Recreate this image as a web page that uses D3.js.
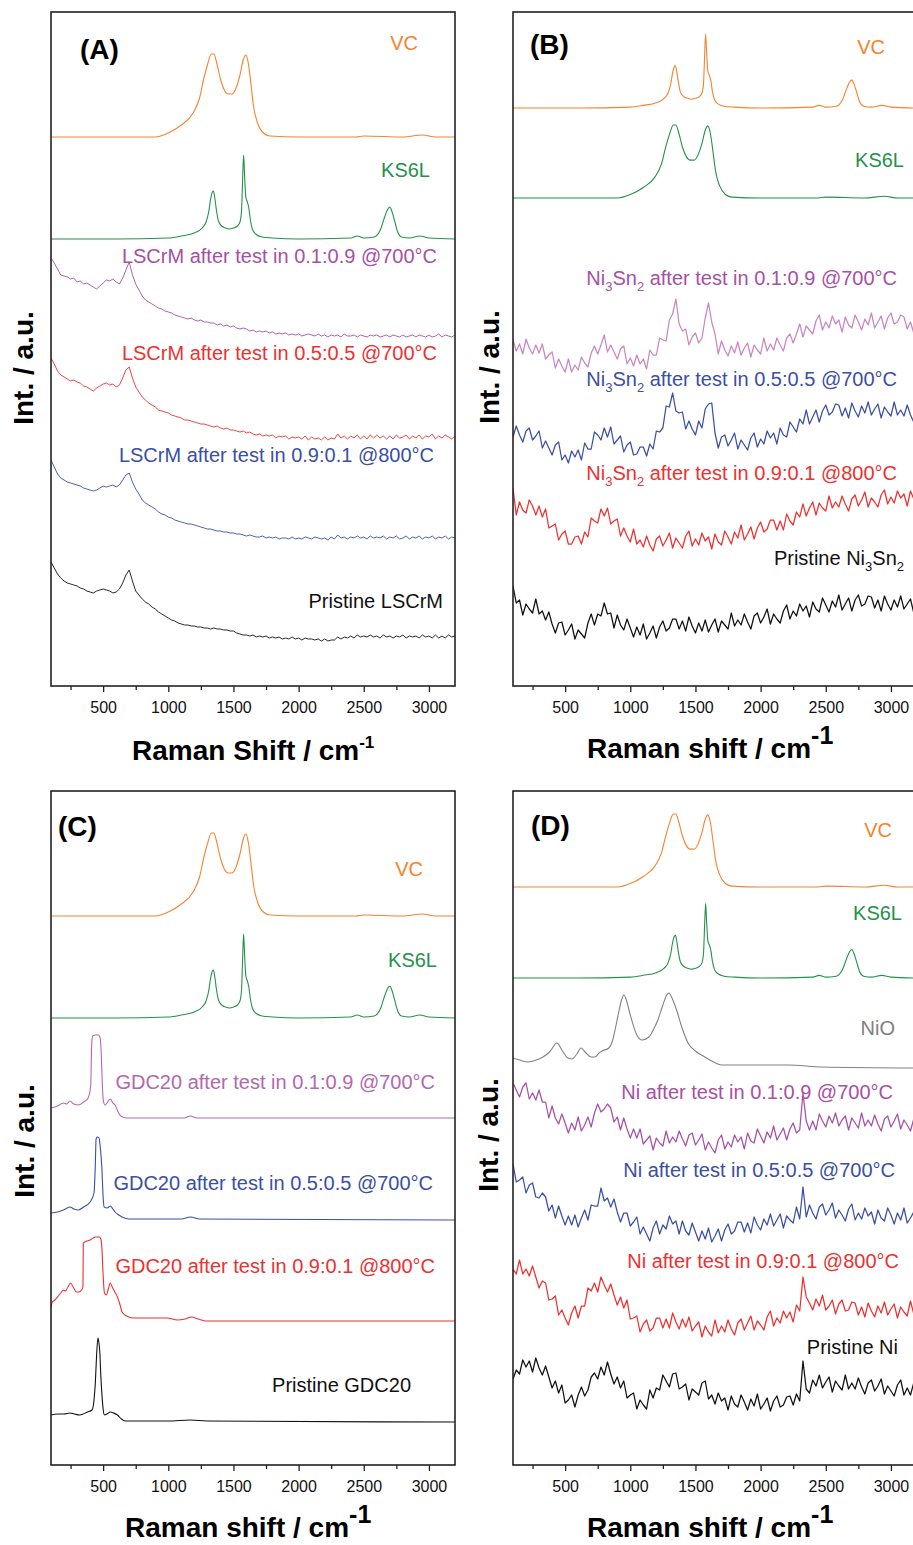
<!DOCTYPE html>
<html>
<head>
<meta charset="utf-8">
<script src="https://cdn.jsdelivr.net/npm/d3@7"></script>
<style>
  body { margin: 0; background: #fff; }
  svg { display: block; font-family: "Liberation Sans", Arial, sans-serif; }
</style>
</head>
<body>
<svg id="chart" width="913" height="1545"></svg>
<script>
// Raman shift axis (cm-1) and intensity range (a.u.)
var shiftDomain = [100, 3200];
var intensityDomain = [0, 674];
var majorTicks = [500, 1000, 1500, 2000, 2500, 3000];
var minorTicks = [250, 750, 1250, 1750, 2250, 2750];

// noisy spectra are read every 25 cm-1
var grid = d3.range(100, 3201, 25);

// carbon references, intensity above their own baseline
var broadCarbon = [[100,0],[400,0],[800,0],[900,0],[1000,4],[1100,12],[1190,24],[1240,39],[1270,57],[1300,72],
  [1330,83],[1350,83],[1370,75],[1400,58],[1430,47],[1460,43],[1490,43],[1520,49],[1550,62],[1575,77],
  [1595,82],[1615,73],[1635,52],[1655,30],[1685,14],[1730,4],[1780,1],[2000,0],[2440,0],[2500,1],
  [2800,0],[2950,2],[3050,0],[3200,0]];
var sharpCarbon = [[100,0],[600,0],[1000,1],[1100,3],[1200,6],[1260,11],[1290,17],[1310,27],[1325,40],[1338,47],
  [1346,48],[1356,42],[1368,30],[1385,18],[1410,13],[1440,11],[1470,10],[1500,11],[1530,13],[1550,17],
  [1562,28],[1570,58],[1578,84],[1586,62],[1595,42],[1607,37],[1618,31],[1630,19],[1645,10],[1670,5],
  [1720,2],[1800,1],[2000,0],[2400,1],[2450,3],[2500,1],[2580,2],[2630,10],[2660,22],[2685,30],
  [2700,32],[2715,28],[2735,19],[2760,7],[2790,2],[2850,1],[2930,3],[3000,1],[3200,0]];
// baseline and scale of [VC, KS6L] in each panel
var refBaselines = { A: [549, 447], B: [578, 488], C: [549, 447], D: [578, 487] };
var refScales = { A: [1, 1], B: [0.88, 0.88], C: [1, 1], D: [0.88, 0.89] };

// (A) LSCrM
var lscrm19 = [428,423,417,411, 410,409,407,408, 404,405,402,403, 401,399,397,400, 403,406,405,407,
  404,402,408,416, 424,411,402,396, 390,386,384,382, 380,378,377,375, 374,373,371,370,
  369,368,367,368, 366,365,366,364, 364,363,363,361, 362,360,361,359, 360,358,357,358,
  357,355,356,354, 355,354,355,353, 354,352,353,352, 353,351,352,351, 352,350,351,352,
  351,350,352,350, 351,349,351,350, 351,349,352,350, 350,351,349,351, 350,349,351,350,
  351,349,350,351, 349,351,350,349, 351,349,350,351, 349,351,350,349, 351,349,350,352,
  349,351,350,349, 351];
var lscrm55 = [328,322,315,311, 309,307,305,306, 304,303,300,299, 297,295,298,300, 302,303,301,302,
  299,301,308,316, 319,308,299,294, 289,286,283,281, 279,276,275,274, 273,271,270,269,
  268,266,266,265, 264,263,262,262, 261,260,259,260, 258,257,258,256, 256,255,254,255,
  253,254,252,251, 252,250,251,250, 251,248,250,249, 250,247,249,248, 249,247,250,246,
  249,247,248,246, 249,246,248,247, 252,248,250,247, 250,248,251,247, 250,247,251,248,
  251,248,250,247, 250,247,251,248, 249,251,247,250, 248,251,247,250, 249,252,247,250,
  248,251,249,247, 250];
var lscrm91 = [226,219,212,208, 206,204,203,202, 201,200,198,197, 196,195,196,198, 200,199,200,201,
  199,201,206,211, 213,204,197,192, 186,183,181,179, 177,174,172,171, 169,168,166,165,
  164,163,162,162, 161,160,159,158, 157,157,156,155, 155,154,154,153, 153,152,152,151,
  150,151,150,149, 149,150,148,149, 148,149,147,148, 148,147,149,147, 148,147,149,148,
  147,149,148,147, 148,146,149,147, 151,148,149,147, 149,148,150,148, 149,147,150,148,
  149,148,150,147, 149,148,150,147, 148,150,147,149, 148,150,147,149, 148,150,147,149,
  148,150,147,149, 148];
var lscrmPristine = [124,118,112,108, 105,103,102,101, 100,98,97,95, 94,93,95,96, 97,96,95,93,
  94,97,103,111, 116,105,95,91, 87,84,82,79, 77,74,72,70, 68,66,65,63,
  62,61,61,60, 60,59,59,58, 58,57,58,57, 57,56,56,55, 55,53,52,51,
  51,50,51,49, 50,49,50,48, 49,48,49,47, 48,47,49,47, 48,46,48,47,
  47,46,47,45, 47,45,46,46, 49,47,49,48, 50,48,51,49, 50,49,51,49,
  50,48,51,49, 50,48,50,49, 51,48,50,49, 50,48,51,49, 50,48,51,48,
  50,48,51,49, 50];

// (B) Ni3Sn2
var nisn19 = [346,335,342,332, 347,338,332,341, 333,342,327,331, 334,318,327,320, 314,327,314,321,
  316,329,323,319, 333,340,332,341, 351,334,341,334, 327,337,340,322, 328,320,331,322,
  327,317,336,331, 331,348,346,345, 366,372,387,362, 355,357,341,349, 353,343,348,368,
  383,364,352,332, 345,336,330,340, 333,344,331,338, 343,329,341,336, 332,348,335,342,
  336,348,341,335, 348,352,343,352, 362,349,360,356, 352,365,371,356, 364,358,370,362,
  366,354,369,361, 358,371,364,356, 367,361,373,358, 364,370,357,368, 373,362,364,371,
  369,357,364,353, 367];
var nisn55 = [249,260,251,244, 255,258,246,250, 255,238,245,238, 231,241,244,226, 231,223,235,229,
  236,226,243,237, 237,254,251,246, 258,249,259,242, 246,250,234,241, 244,231,232,239,
  239,230,242,237, 255,254,258,280, 279,293,275,273, 274,257,265,257, 251,265,258,277,
  282,283,253,238, 249,251,240,246, 253,237,246,241, 236,248,253,239, 247,242,255,248,
  253,242,258,251, 249,264,259,254, 267,262,276,262, 269,276,264,275, 281,271,274,282,
  281,270,278,268, 283,275,269,280, 273,284,271,277, 282,268,279,274, 270,284,271,276,
  270,281,271,264, 276];
var nisn91 = [198,171,184,176, 173,186,180,171, 180,169,177,158, 160,162,146,152, 155,142,142,149,
  150,142,154,149, 168,165,163,177, 170,178,162,165, 167,150,158,150, 144,157,142,146,
  139,150,141,135, 147,150,140,146, 153,138,148,143, 138,150,155,140, 147,141,153,145,
  149,137,152,144, 141,155,149,142, 154,148,161,146, 152,159,147,158, 164,154,157,166,
  166,156,165,156, 172,165,161,174, 169,182,170,178, 184,171,183,178, 175,190,178,184,
  179,190,182,175, 187,191,180,186, 194,179,188,184, 179,191,196,182, 189,183,195,188,
  192,180,195,187, 184];
var nisnPristine = [100,83,86,71, 82,77,73,87, 72,75,66,74, 62,53,63,64, 51,56,62,47,
  56,52,48,63, 72,61,72,70, 83,72,73,58, 71,61,56,67, 58,49,59,51,
  62,47,53,60, 48,59,65,55, 58,67,67,57, 65,55,69,60, 53,63,55,66,
  54,61,67,54, 65,61,57,73, 60,66,61,72, 64,57,70,73, 63,69,77,62,
  72,67,63,75, 81,67,75,70, 82,75,80,69, 84,77,74,88, 81,74,85,79,
  91,76,82,88, 75,86,91,80, 82,90,89,78, 86,75,90,82, 76,86,79,90,
  77,82,87,73, 84];

// (C) GDC20
var gdc19 = [[100,357],[150,359],[195,362],[220,361],[245,364],[275,361],[310,360],[350,363],[385,367],[405,380],
  [412,420],[420,429],[440,430],[465,430],[478,426],[486,410],[494,380],[502,364],[515,360],[535,363],
  [555,366],[575,362],[592,360],[612,354],[635,349],[680,347],[730,347],[1000,347],[1120,347],[1170,349],
  [1220,347],[1500,347],[3200,347]];
var gdc55 = [[100,252],[150,253],[195,255],[245,258],[275,256],[310,255],[350,258],[400,263],[430,272],[440,300],
  [446,326],[455,328],[469,327],[478,318],[490,298],[500,268],[508,258],[530,257],[555,259],[575,256],
  [592,253],[620,250],[645,248],[700,246],[730,246],[1100,246],[1170,248],[1240,246],[3200,245]];
var gdc91 = [[100,158],[110,163],[130,165],[150,168],[175,172],[195,175],[210,174],[230,178],[250,182],[270,178],
  [295,173],[315,173],[335,175],[345,178],[348,222],[360,223],[400,225],[440,228],[470,228],[482,226],
  [490,218],[500,190],[510,172],[525,170],[540,176],[555,182],[570,178],[590,173],[610,168],[630,160],
  [645,153],[680,149],[730,147],[850,147],[990,147],[1070,145],[1130,146],[1180,148],[1230,146],[1290,144],
  [3200,144]];
var gdcPristine = [[100,50],[150,51],[200,51],[245,52],[280,51],[320,50],[380,53],[415,55],[430,65],[440,82],
  [450,110],[460,127],[468,122],[475,112],[482,90],[490,72],[500,56],[510,50],[530,51],[555,53],
  [580,52],[610,50],[640,46],[670,44],[1000,44],[1170,45],[1300,44],[3200,43]];

// (D) Ni
var nio = [[100,407],[150,405],[215,403],[280,405],[330,408],[380,413],[437,422],[480,414],[520,407],[552,406],
  [590,411],[622,417],[660,412],[700,408],[730,408],[760,412],[783,414],[835,417],[865,425],[883,435],
  [910,452],[935,466],[951,470],[970,465],[990,455],[1013,444],[1050,430],[1090,425],[1143,428],[1180,436],
  [1212,445],[1250,460],[1280,470],[1296,472],[1320,467],[1355,455],[1400,436],[1443,422],[1500,414],[1572,408],
  [1640,403],[1700,400],[2000,400],[2210,400],[2470,398],[3200,397]];
var ni19 = [382,375,368,378, 382,366,372,365, 375,363,363,347, 359,347,341,351, 342,332,342,335,
  348,334,340,348, 338,352,361,353, 356,361,357,343, 348,335,347,336, 327,336,327,336,
  321,325,329,315, 327,322,319,334, 322,328,323,334, 326,319,330,332, 320,325,331,315,
  323,317,312,325, 330,316,323,318, 330,323,328,316, 332,324,322,336, 329,322,333,327,
  339,325,331,337, 325,336,342,332, 335,372,344,335, 344,335,351,344, 338,349,342,352,
  339,345,349,335, 347,342,337,352, 339,345,339,350, 341,334,346,349, 338,344,351,336,
  345,340,334,346, 351];
var ni55 = [301,283,285,288, 272,280,282,268, 267,272,268,254, 260,247,259,249, 240,249,240,250,
  238,247,255,245, 260,259,259,277, 264,267,258,266, 253,243,252,252, 239,243,248,231,
  238,231,224,237, 244,231,240,236, 249,241,244,231, 244,234,230,242, 233,224,234,226,
  237,223,229,236, 224,235,241,231, 234,243,243,233, 242,232,248,240, 235,246,240,251,
  239,245,251,237, 249,245,242,258, 246,278,248,260, 252,246,258,261, 250,255,262,247,
  255,250,244,256, 261,245,252,246, 257,249,253,241, 255,247,244,257, 250,241,252,245,
  257,242,247,253, 240];
var ni91 = [196,191,205,191, 196,189,199,188, 177,184,182,165, 166,169,150,155, 147,140,152,159,
  147,159,159,177, 174,182,173,188, 180,173,181,170, 160,168,157,165, 146,147,149,133,
  141,145,134,137, 147,147,137,146, 137,152,143,136, 146,138,148,134, 139,143,128,139,
  133,129,145,132, 139,133,145,136, 130,142,146,135, 142,149,135,144, 140,135,148,154,
  139,147,142,154, 147,153,143,160, 154,188,168,162, 155,166,159,170, 155,159,165,151,
  161,165,154,155, 163,162,150,158, 148,162,154,148, 159,152,163,150, 156,161,147,158,
  153,149,164,151, 157];
var niPristine = [86,95,91,105, 98,104,93,107, 97,90,99,88, 77,84,72,80, 62,65,70,58,
  70,78,69,75, 88,92,86,98, 90,103,91,81, 88,77,84,67, 70,72,56,65,
  60,56,75,67, 77,75,90,84, 78,91,92,76, 78,81,65,76, 73,70,82,84,
  66,70,61,72, 64,67,55,69, 61,58,70,63, 55,66,59,71, 56,61,67,54,
  64,69,58,60, 68,69,60,71, 64,104,76,72, 85,79,90,77, 83,88,73,84,
  79,75,90,76, 82,76,87,78, 71,82,85,74, 79,86,71,79, 74,69,80,85,
  70,77,70,82, 74];

// colours
var orange = '#f5832f', green = '#25914a', purple = '#a650a6', pink = '#c886c3',
  lilac = '#b466b2', blue = '#3b4fa3', red = '#ee3030', grey = '#808080', black = '#111';

function onGrid(values) {
  return values.map(function (v, i) { return [grid[i], v]; })
    .filter(function (d) { return d[0] != null; });
}
function ref(shape, base, k) {
  return shape.map(function (d) { return [d[0], base + k * d[1]]; });
}

var W = 404, H = 674;
var x = d3.scaleLinear().domain(shiftDomain).range([0, W]);
var y = d3.scaleLinear().domain(intensityDomain).range([H, 0]);

var panels = [
  { id: 'A', left: 51, top: 12, tag: [80, 59], ylab: [33, 368],
    title: 'Raman Shift / cm', titleX: 132, titleY: 760, supSize: 17, supDy: -12,
    series: [
      { d: ref(broadCarbon, refBaselines.A[0], refScales.A[0]), c: orange, s: 1, t: 'VC', at: [418, 50] },
      { d: ref(sharpCarbon, refBaselines.A[1], refScales.A[1]), c: green, s: 1, t: 'KS6L', at: [430, 177] },
      { d: onGrid(lscrm19), c: purple, t: 'LSCrM after test in 0.1:0.9 @700°C', at: [437, 263] },
      { d: onGrid(lscrm55), c: red, t: 'LSCrM after test in 0.5:0.5 @700°C', at: [437, 360] },
      { d: onGrid(lscrm91), c: blue, t: 'LSCrM after test in 0.9:0.1 @800°C', at: [434, 462] },
      { d: onGrid(lscrmPristine), c: black, t: 'Pristine LSCrM', at: [443, 608] }
    ] },
  { id: 'B', left: 513, top: 12, tag: [530, 54], ylab: [499, 367],
    title: 'Raman shift / cm', titleX: 587, titleY: 758, supSize: 25, supDy: -14,
    series: [
      { d: ref(sharpCarbon, refBaselines.B[0], refScales.B[0]), c: orange, s: 1, t: 'VC', at: [885, 54] },
      { d: ref(broadCarbon, refBaselines.B[1], refScales.B[1]), c: green, s: 1, t: 'KS6L', at: [904, 167] },
      { d: onGrid(nisn19), c: pink, n: 1, lc: purple, t: 'Ni_3Sn_2 after test in 0.1:0.9 @700°C', at: [897, 285] },
      { d: onGrid(nisn55), c: blue, n: 1, t: 'Ni_3Sn_2 after test in 0.5:0.5 @700°C', at: [897, 386] },
      { d: onGrid(nisn91), c: red, n: 1, t: 'Ni_3Sn_2 after test in 0.9:0.1 @800°C', at: [897, 480] },
      { d: onGrid(nisnPristine), c: black, n: 1, t: 'Pristine Ni_3Sn_2', at: [904, 565] }
    ] },
  { id: 'C', left: 51, top: 791, tag: [58, 836], ylab: [34, 1141],
    title: 'Raman shift / cm', titleX: 125, titleY: 1537, supSize: 25, supDy: -14,
    series: [
      { d: ref(broadCarbon, refBaselines.C[0], refScales.C[0]), c: orange, s: 1, t: 'VC', at: [423, 876] },
      { d: ref(sharpCarbon, refBaselines.C[1], refScales.C[1]), c: green, s: 1, t: 'KS6L', at: [437, 967] },
      { d: gdc19, c: lilac, s: 1, t: 'GDC20 after test in 0.1:0.9 @700°C', at: [435, 1089] },
      { d: gdc55, c: blue, s: 1, t: 'GDC20 after test in 0.5:0.5 @700°C', at: [433, 1190] },
      { d: gdc91, c: red, s: 1, t: 'GDC20 after test in 0.9:0.1 @800°C', at: [435, 1273] },
      { d: gdcPristine, c: black, s: 1, t: 'Pristine GDC20', at: [411, 1392] }
    ] },
  { id: 'D', left: 513, top: 791, tag: [531, 835], ylab: [498, 1135],
    title: 'Raman shift / cm', titleX: 587, titleY: 1537, supSize: 25, supDy: -14,
    series: [
      { d: ref(broadCarbon, refBaselines.D[0], refScales.D[0]), c: orange, s: 1, t: 'VC', at: [892, 837] },
      { d: ref(sharpCarbon, refBaselines.D[1], refScales.D[1]), c: green, s: 1, t: 'KS6L', at: [902, 920] },
      { d: nio, c: grey, s: 1, t: 'NiO', at: [895, 1035] },
      { d: onGrid(ni19), c: purple, n: 1, t: 'Ni after test in 0.1:0.9 @700°C', at: [893, 1099] },
      { d: onGrid(ni55), c: blue, n: 1, t: 'Ni after test in 0.5:0.5 @700°C', at: [895, 1177] },
      { d: onGrid(ni91), c: red, n: 1, t: 'Ni after test in 0.9:0.1 @800°C', at: [899, 1268] },
      { d: onGrid(niPristine), c: black, n: 1, t: 'Pristine Ni', at: [898, 1354] }
    ] }
];

var svg = d3.select('#chart');
var smoothLine = d3.line().curve(d3.curveMonotoneX)
  .x(function (d) { return x(d[0]); }).y(function (d) { return y(d[1]); });
var rawLine = d3.line()
  .x(function (d) { return x(d[0]); }).y(function (d) { return y(d[1]); });

// text with "_n" subscripts
function label(str, px, py, color) {
  var t = svg.append('text').attr('x', px).attr('y', py)
    .attr('text-anchor', 'end').attr('fill', color).style('font-size', '20px');
  var shift = 0;
  str.split(/(_\d)/).forEach(function (p) {
    if (!p) return;
    var sub = p[0] === '_';
    var ts = t.append('tspan').text(sub ? p.slice(1) : p);
    var target = sub ? 6 : 0;
    if (target !== shift) { ts.attr('dy', target - shift); shift = target; }
    if (sub) ts.style('font-size', '13px');
  });
}

panels.forEach(function (p) {
  var g = svg.append('g').attr('transform', 'translate(' + p.left + ',' + p.top + ')');

  g.append('clipPath').attr('id', 'clip' + p.id)
    .append('rect').attr('width', W).attr('height', H);

  // spectra
  g.append('g').attr('clip-path', 'url(#clip' + p.id + ')')
    .selectAll('path').data(p.series).enter().append('path')
    .attr('d', function (s) { return s.s ? smoothLine(s.d) : rawLine(s.d); })
    .attr('fill', 'none')
    .attr('stroke', function (s) { return s.c; })
    .attr('stroke-width', function (s) { return s.n ? 1.25 : (s.s ? 1.1 : 0.9); })
    .attr('stroke-linejoin', 'round');

  // bottom axis: labelled major ticks and minor ticks
  var ax = g.append('g').attr('transform', 'translate(0,' + H + ')')
    .call(d3.axisBottom(x).tickValues(majorTicks).tickSize(6).tickPadding(10).tickFormat(d3.format('d')));
  ax.select('.domain').remove();
  ax.selectAll('text').style('font-size', '16px').attr('fill', '#111');
  ax.selectAll('line').attr('stroke', '#222').attr('stroke-width', 1.3);
  var mn = g.append('g').attr('transform', 'translate(0,' + H + ')')
    .call(d3.axisBottom(x).tickValues(minorTicks).tickSize(4).tickFormat(''));
  mn.select('.domain').remove();
  mn.selectAll('line').attr('stroke', '#222').attr('stroke-width', 1.3);

  // frame
  g.append('rect').attr('width', W).attr('height', H)
    .attr('fill', 'none').attr('stroke', '#222').attr('stroke-width', 1.6);

  // panel tag
  svg.append('text').attr('x', p.tag[0]).attr('y', p.tag[1])
    .style('font-size', '28px').style('font-weight', 'bold').text('(' + p.id + ')');

  // axis titles
  var tt = svg.append('text').attr('x', p.titleX).attr('y', p.titleY)
    .style('font-size', '28px').style('font-weight', 'bold');
  tt.append('tspan').text(p.title);
  tt.append('tspan').attr('dy', p.supDy).style('font-size', p.supSize + 'px').text('-1');

  svg.append('text')
    .attr('transform', 'translate(' + p.ylab[0] + ',' + p.ylab[1] + ') rotate(-90)')
    .attr('text-anchor', 'middle')
    .style('font-size', '28px').style('font-weight', 'bold').text('Int. / a.u.');

  p.series.forEach(function (s) { label(s.t, s.at[0], s.at[1], s.lc || s.c); });
});
</script>
</body>
</html>
